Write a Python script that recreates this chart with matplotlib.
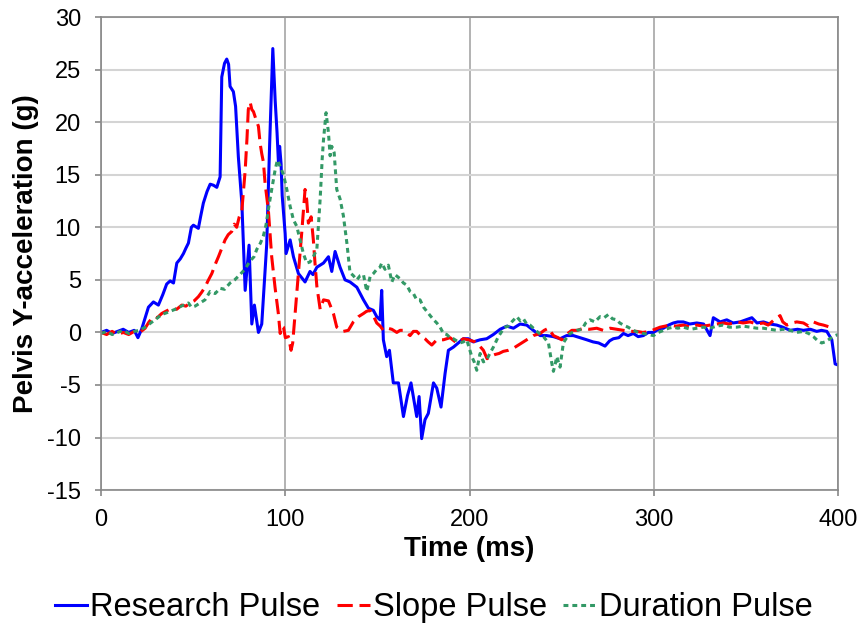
import matplotlib
matplotlib.use("Agg")
import matplotlib.pyplot as plt

plt.rcParams['font.family'] = ['Liberation Sans', 'DejaVu Sans']
plt.rcParams['axes.unicode_minus'] = False

# Research Pulse (blue, solid)
research_t = [0, 3, 6, 9, 12, 15, 18, 20, 22, 25.7,
              28.4, 31.1, 33.5, 35.6, 37.5, 39.3, 41.1, 43, 44.7, 46,
              47.4, 49, 50.1, 52.8, 54, 55.5, 57.5, 59.2, 61, 62.8,
              64.6, 65.5, 67, 68.2, 69.2, 70, 71.8, 73, 74.5, 76.4,
              78.2, 79.2, 80.3, 81.8, 83.2, 85.4, 87.2, 89.9, 91.5, 93.2,
              94.5, 95.5, 96.3, 96.9, 97.7, 98.3, 99.9, 100.4, 102.6, 104.4,
              107.1, 110.7, 113.4, 115, 117.1, 120.7, 123.4, 125.2, 127, 129.7,
              132.4, 135.1, 138.8, 142.4, 145.1, 147.8, 149.6, 151.4, 152.3, 153.2,
              155, 156.5, 158.6, 161.4, 164.1, 166.3, 168.2, 171.3, 172.6, 174,
              175.8, 177.6, 180.4, 182.2, 184.5, 186.7, 188.5, 191.2, 193.9, 196.6,
              199.3, 202, 205.7, 209.3, 212.9, 216.6, 220.2, 223.8, 227.4, 231,
              234.6, 238.3, 241.9, 245.5, 249.1, 252.7, 256.3, 260, 263.6, 267,
              270, 273.5, 276, 278, 281, 283.5, 286, 288.9, 291.5, 294.3,
              297, 299.8, 302.5, 305.2, 308, 310.6, 313, 316, 319.5, 323.3,
              327, 330.5, 332.3, 336, 339.6, 343, 346.8, 350, 353.2, 356,
              359.5, 363, 366.7, 370, 374, 378, 381.2, 385, 388.4, 391,
              393.9, 396.6, 398.4, 400]
research_g = [0.0, 0.2, -0.1, 0.1, 0.3, 0.0, 0.2, -0.5, 0.3, 2.4,
              2.9, 2.6, 3.6, 4.6, 4.9, 4.7, 6.6, 7.0, 7.5, 8.0,
              8.5, 10.0, 10.2, 9.9, 11.0, 12.3, 13.4, 14.1, 14.0, 13.8,
              14.8, 24.3, 25.6, 26.0, 25.5, 23.4, 22.9, 21.5, 16.7, 12.3,
              4.0, 6.0, 8.3, 0.8, 2.6, 0.0, 0.8, 8.4, 18.0, 27.0,
              22.0, 19.0, 16.0, 17.7, 16.0, 13.0, 9.4, 7.5, 8.8, 7.2,
              5.6, 4.8, 5.8, 5.5, 6.2, 6.6, 7.2, 5.8, 7.7, 6.2,
              5.0, 4.8, 4.3, 3.1, 2.3, 2.1, 1.5, 1.2, 4.0, -0.7,
              -2.3, -1.7, -4.8, -4.8, -8.0, -6.0, -4.8, -8.0, -6.1, -10.1,
              -8.3, -7.7, -4.8, -5.3, -7.1, -3.9, -1.7, -1.4, -1.0, -0.6,
              -0.6, -0.9, -0.7, -0.6, -0.2, 0.3, 0.6, 0.4, 0.8, 0.7,
              0.2, -0.3, -0.3, -0.4, -0.6, -0.3, -0.3, -0.5, -0.7, -0.9,
              -1.0, -1.3, -0.8, -0.6, -0.5, -0.1, -0.3, -0.1, -0.4, -0.3,
              0.0, 0.0, 0.3, 0.4, 0.7, 0.9, 1.0, 1.0, 0.8, 0.9,
              0.8, -0.3, 1.4, 1.0, 1.2, 0.9, 1.0, 1.2, 1.4, 0.9,
              1.0, 0.8, 0.7, 0.5, 0.2, 0.3, 0.2, 0.3, 0.1, 0.2,
              0.1, -0.7, -3.0, -3.1]

# Slope Pulse (red, dashed)
slope_t = [0, 3, 6, 9, 12, 15, 18, 21, 23.9, 26,
           28.4, 30.5, 32.9, 35, 38.4, 41, 43.8, 46, 48.3, 50.5,
           52.8, 54.5, 56.4, 58, 60.1, 62, 63.7, 65.5, 67.3, 69,
           70.9, 72.3, 73.6, 75, 76.4, 77.3, 78.2, 79.2, 79.9, 80.9,
           81.8, 82.7, 84, 85.4, 86.3, 87.2, 88.1, 89, 90.8, 92.6,
           94.4, 96.2, 97.2, 98.1, 99, 100, 101.7, 103.1, 104, 105.3,
           107.1, 108.9, 110.7, 111.6, 112.5, 114, 115.2, 116.1, 117.1, 118.9,
           120.7, 123.4, 126.1, 127.9, 129.5, 131.5, 134.2, 136.9, 139.7, 142.4,
           144, 146, 148, 149.6, 151.5, 153.2, 155.5, 157.8, 160.5, 162.3,
           164.1, 167.7, 169.5, 171.3, 173.5, 175.8, 177.5, 179.5, 182.2, 185.8,
           189.4, 193, 196.6, 199.3, 203, 205.5, 207.5, 209.5, 211.1, 213.8,
           216, 218.3, 221, 223.8, 226.5, 229.2, 232, 234.6, 238.3, 240.5,
           242.8, 245.5, 248, 250, 252.5, 255.5, 258.5, 261.8, 265, 269,
           272.5, 276.3, 280, 283.5, 287, 290.7, 294, 298, 300.5, 303.4,
           308.8, 312, 316, 320, 323.3, 327, 330.5, 334, 337.7, 341,
           345, 348.5, 352.2, 356, 359.5, 362, 364, 366, 368.5, 370,
           372.2, 375, 377.6, 381.2, 384, 386.6, 389.5, 392, 395.7]
slope_g = [0.0, -0.2, 0.1, -0.2, 0.0, -0.2, 0.1, 0.0, 0.4, 1.0,
           1.5, 1.4, 1.8, 2.0, 2.3, 2.2, 2.6, 2.5, 2.8, 3.0,
           3.4, 3.8, 4.3, 4.9, 5.6, 6.5, 7.2, 8.0, 8.8, 9.3,
           9.6, 10.3, 10.0, 11.0, 11.6, 13.5, 15.4, 18.5, 21.2, 21.9,
           21.2, 21.0, 20.3, 19.6, 18.0, 17.0, 16.2, 14.2, 11.6, 7.2,
           4.3, 1.8, -0.1, 0.6, 0.5, -0.5, -0.4, -1.7, -1.0, 1.8,
           5.6, 9.5, 13.6, 12.6, 10.4, 11.0, 8.8, 6.6, 4.4, 2.2,
           3.1, 3.0, 1.8, 0.5, 0.3, 0.1, 0.2, 1.0, 1.5, 1.8,
           2.0, 2.1, 1.5, 0.9, 0.6, 0.2, 0.4, 0.3, 0.0, 0.2,
           0.2, -0.3, 0.1, 0.1, -0.3, -0.6, -0.9, -1.2, -0.7, -0.7,
           -0.5, -1.0, -0.6, -0.7, -0.9, -1.3, -1.7, -2.5, -2.3, -2.1,
           -2.0, -1.8, -1.7, -1.5, -1.2, -0.9, -0.6, -0.3, -0.1, 0.2,
           0.4, -0.3, -0.5, -0.7, -0.2, 0.2, 0.2, 0.4, 0.3, 0.4,
           0.2, 0.4, 0.3, 0.2, 0.1, 0.1, 0.0, 0.1, 0.3, 0.5,
           0.7, 0.6, 0.7, 0.5, 0.7, 0.6, 0.7, 0.8, 0.9, 0.8,
           1.0, 0.9, 1.0, 0.8, 0.9, 0.7, 1.0, 1.3, 1.6, 1.0,
           0.7, 0.9, 1.0, 0.9, 0.6, 1.0, 0.8, 0.7, 0.5]

# Duration Pulse (green, dotted)
duration_t = [0, 3, 6, 9, 12, 15, 18, 21, 23.9, 27,
              30, 32.9, 36, 40.2, 43.5, 47.4, 49, 51, 53.7, 56.4,
              59.2, 61.9, 64.6, 67, 70, 72.5, 75.4, 78, 80.9, 83,
              84.5, 86.5, 88.1, 89.5, 90.8, 92, 93.5, 94.5, 95.7, 97.2,
              99, 100.8, 102.6, 104.4, 106.2, 108, 109.8, 111.6, 113.4, 115.2,
              117.1, 118.9, 120, 120.7, 122.1, 123.4, 124.3, 125.2, 126.5, 127.9,
              129.7, 131.5, 133.4, 135.1, 136.9, 138.8, 140.6, 142.4, 144.2, 146,
              147.8, 149.6, 151.4, 152.3, 154.1, 155.9, 157.8, 159.5, 162.3, 164.1,
              165.9, 167.7, 169.5, 171.3, 173.1, 175, 176.8, 178.6, 180.5, 182.2,
              184, 185.8, 187.6, 189.4, 191.2, 193, 194.8, 196.6, 198.5, 199.3,
              201.2, 202.5, 203.9, 205.7, 207.5, 209.3, 211, 212.9, 215.6, 217.5,
              219.3, 221, 222.9, 225.6, 227.5, 229.2, 231, 232.8, 236.5, 240.1,
              242.8, 244.6, 245.5, 246.5, 247.3, 249.1, 250.9, 252.7, 254.5, 258.2,
              261, 263, 265.4, 268, 270.8, 273, 275.3, 277.5, 279.9, 281.5,
              283.5, 286, 288.9, 291.5, 294.3, 297, 299.8, 302.5, 305.2, 308,
              310.6, 313, 316, 320, 323.3, 327, 330.5, 334, 337.7, 341,
              345, 348.5, 352.2, 356, 359.5, 363, 366.7, 370, 374, 377.5,
              381.2, 384, 386.6, 389, 391.1, 393, 394.7, 396.5, 398.4, 400]
duration_g = [-0.1, 0.1, -0.2, 0.0, 0.2, -0.1, 0.1, 0.2, 0.5, 0.9,
              1.3, 1.7, 1.9, 2.2, 2.5, 2.8, 2.4, 2.5, 2.8, 3.1,
              3.9, 3.7, 4.2, 4.1, 4.7, 5.0, 5.5, 6.0, 6.8, 7.2,
              7.9, 8.5, 9.2, 10.2, 11.7, 13.0, 14.5, 15.5, 16.4, 15.8,
              15.0, 13.6, 12.0, 10.7, 10.1, 8.8, 7.5, 6.6, 6.7, 7.2,
              7.9, 12.7, 16.5, 18.3, 20.9, 19.0, 16.8, 17.7, 17.1, 13.6,
              12.7, 11.1, 8.5, 5.7, 5.4, 5.0, 5.4, 5.5, 3.9, 5.3,
              5.6, 6.0, 6.2, 6.6, 6.0, 6.4, 4.8, 5.5, 5.1, 4.7,
              4.5, 3.9, 3.7, 3.1, 3.1, 2.4, 2.0, 1.6, 1.2, 0.9,
              0.5, -0.1, -0.2, -0.5, -0.6, -0.8, -1.0, -0.9, -0.7, -1.2,
              -2.3, -2.8, -3.6, -2.0, -2.8, -2.6, -2.0, -1.4, -0.4, 0.1,
              0.5, 0.6, 1.0, 1.5, 1.1, 1.3, 0.8, 0.7, 0.1, -0.4,
              -1.0, -2.9, -3.7, -3.0, -2.3, -3.3, -1.0, -0.5, -0.1, 0.2,
              0.3, 0.9, 1.2, 1.0, 1.5, 1.4, 1.7, 1.3, 1.2, 0.9,
              0.7, 0.5, 0.2, 0.0, -0.1, -0.2, -0.3, 0.0, 0.2, 0.4,
              0.5, 0.4, 0.5, 0.3, 0.4, 0.5, 0.4, 0.6, 0.7, 0.5,
              0.5, 0.6, 0.5, 0.4, 0.4, 0.3, 0.2, 0.3, 0.2, 0.0,
              0.1, -0.1, -0.4, -0.8, -1.0, -0.9, -0.7, -0.5, -0.3, -0.2]

x_ticks = [0, 100, 200, 300, 400]
y_ticks = [-15, -10, -5, 0, 5, 10, 15, 20, 25, 30]

fig = plt.figure(figsize=(8.64, 6.3), dpi=100)
ax = fig.add_axes([0.117, 0.222, 0.853, 0.751])

ax.plot(research_t, research_g, color='#0000ff', lw=2.2, label='Research Pulse')
ax.plot(slope_t, slope_g, color='#ff0000', lw=2.2, dashes=(5, 2.2), label='Slope Pulse')
ax.plot(duration_t, duration_g, color='#339966', lw=2.2, dashes=(1.6, 1.3), label='Duration Pulse')

ax.set_xlim(0, 400)
ax.set_ylim(-15, 30)
ax.set_xticks(x_ticks)
ax.set_yticks(y_ticks)
ax.yaxis.grid(True, color='#d4d4d4', lw=1.5)
ax.xaxis.grid(True, color='#a6a6a6', lw=1.2)
ax.set_axisbelow(True)
for s in ax.spines.values():
    s.set_color('#888888')
    s.set_linewidth(1.2)
ax.tick_params(axis='both', which='major', labelsize=17, length=4.5, color='#888888', width=1.2)
ax.tick_params(axis='y', pad=10)
ax.tick_params(axis='x', pad=9)

ax.set_xlabel('Time (ms)', fontsize=20, fontweight='bold', labelpad=4)
ax.set_ylabel('Pelvis Y-acceleration (g)', fontsize=20, fontweight='bold', labelpad=6)

fig.legend(loc='center', bbox_to_anchor=(0.502, 0.035), ncol=3, frameon=False,
           fontsize=23.5, handlelength=1.0, handletextpad=0.1, columnspacing=0.5)

fig.savefig('out.png', dpi=100)
